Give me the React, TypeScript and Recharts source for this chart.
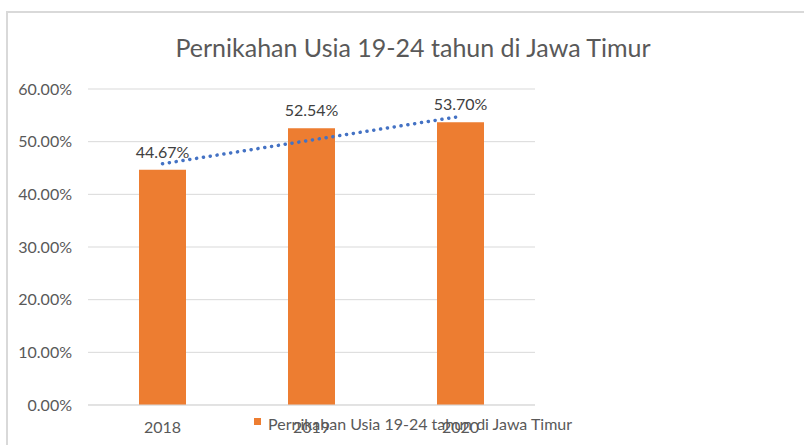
import { ComposedChart, Bar, Line, XAxis, YAxis, CartesianGrid, Legend, LabelList } from 'recharts'

const years = ['2018', '2019', '2020']
const nikah = [44.67, 52.54, 53.7]
// linear trendline as drawn in the picture
const trendline = [45.8, 50.3, 54.8]
const yTicks = [0, 10, 20, 30, 40, 50, 60]

const seriesName = 'Pernikahan Usia 19-24 tahun di Jawa Timur'

const data = years.map((year, i) => ({ year, nikah: nikah[i], trend: trendline[i] }))

const pct = (v: number) => `${Number(v).toFixed(2)}%`

function LegendBox() {
  return (
    <div style={{ display: 'flex', alignItems: 'flex-start', whiteSpace: 'nowrap', lineHeight: '16px' }}>
      <span style={{ display: 'inline-block', width: 7, height: 7, background: '#ED7D31', marginTop: 2 }} />
      <span style={{ marginLeft: 7, fontSize: 16, color: '#595959' }}>{seriesName}</span>
    </div>
  )
}

export default function App() {
  return (
    <div
      style={{
        position: 'absolute',
        left: 0,
        top: 0,
        width: 804,
        height: 445,
        overflow: 'hidden',
        background: '#fff',
        fontFamily: 'Lato, sans-serif',
      }}
    >
      <div
        style={{
          position: 'absolute',
          left: 6,
          top: 11,
          width: 900,
          height: 500,
          border: '2px solid #d9d9d9',
        }}
      />
      <div
        style={{
          position: 'absolute',
          left: 0,
          top: 35,
          width: 826,
          textAlign: 'center',
          fontSize: 25,
          lineHeight: '25px',
          color: '#595959',
        }}
      >
        {seriesName}
      </div>
      <ComposedChart width={804} height={445} data={data} margin={{ top: 89, right: 269, left: 0, bottom: 0 }}>
        <CartesianGrid vertical={false} stroke="#d9d9d9" />
        <XAxis
          dataKey="year"
          height={40}
          tickLine={false}
          tickSize={0}
          tickMargin={17}
          axisLine={{ stroke: '#d9d9d9' }}
          tick={{ fill: '#595959', fontSize: 16 }}
        />
        <YAxis
          width={88}
          domain={[0, 60]}
          ticks={yTicks}
          tickFormatter={pct}
          axisLine={false}
          tickLine={false}
          tickSize={0}
          tickMargin={16}
          tick={{ fill: '#595959', fontSize: 16 }}
        />
        <Legend
          layout="vertical"
          align="center"
          verticalAlign="middle"
          wrapperStyle={{ left: 254, top: 416 }}
          content={() => <LegendBox />}
        />
        <Bar dataKey="nikah" name={seriesName} fill="#ED7D31" barSize={47} isAnimationActive={false}>
          <LabelList dataKey="nikah" position="top" offset={12} formatter={pct} fill="#404040" fontSize={16} />
        </Bar>
        <Line
          type="linear"
          dataKey="trend"
          stroke="#4472C4"
          strokeWidth={3.5}
          strokeDasharray="0.1 6.8"
          strokeLinecap="round"
          dot={false}
          activeDot={false}
          legendType="none"
          isAnimationActive={false}
        />
      </ComposedChart>
    </div>
  )
}
